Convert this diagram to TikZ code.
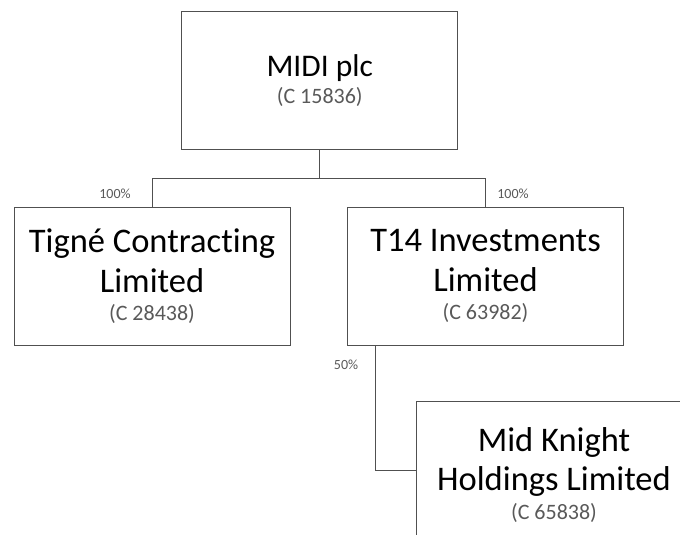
\documentclass[tikz,border=0pt]{standalone}
\usepackage{fontspec}
\setmainfont[RawFeature=-liga]{Carlito}
\definecolor{linegray}{HTML}{505050}
\definecolor{txtgray}{HTML}{595959}
\newcommand{\regno}[1]{{\fontsize{22}{26}\selectfont\color{txtgray}#1}}
\begin{document}
\begin{tikzpicture}[x=1pt,y=-1pt,
  box/.style={draw=linegray, line width=1pt, minimum width=276pt, minimum height=138pt,
    inner sep=0pt, align=center, font=\fontsize{34.5}{40}\selectfont},
  conn/.style={draw=linegray, line width=1pt},
  pct/.style={font=\fontsize{14}{16}\selectfont, text=txtgray, inner sep=0pt}]
\useasboundingbox (0,0) rectangle (680,535);
\clip (0,0) rectangle (680,535);
\node[box, minimum height=137pt, font=\fontsize{31.5}{40}\selectfont] (midi) at (319.75,80.5)
  {MIDI plc\\[-13pt]\regno{(C 15836)}};
\node[box] (tigne) at (152,276) {Tigné Contracting\\Limited\\[-12pt]\regno{(C 28438)}};
\node[box] (t14) at (485.5,276) {T14 Investments\\Limited\\[-12pt]\regno{(C 63982)}};
\node[box, minimum height=148pt] (mk) at (554,475.5) {Mid Knight\\[-1pt]Holdings Limited\\[-11pt]\regno{(C 65838)}};
\coordinate (bus) at (0,178);
\coordinate (mkx) at (375,0);
\coordinate (mkj) at (0,470.5);
\draw[conn] (midi.south) -- (midi.south |- bus);
\draw[conn] (tigne.north) -- (tigne.north |- bus) -- (t14.north |- bus) -- (t14.north);
\draw[conn] (mkx |- t14.south) -- (mkx |- mkj) -- (mk.west |- mkj);
\node[pct] (p1) at (115,194) {100\%};
\node[pct] (p2) at (513,194) {100\%};
\node[pct] (p3) at (346,365) {50\%};
\end{tikzpicture}
\end{document}
